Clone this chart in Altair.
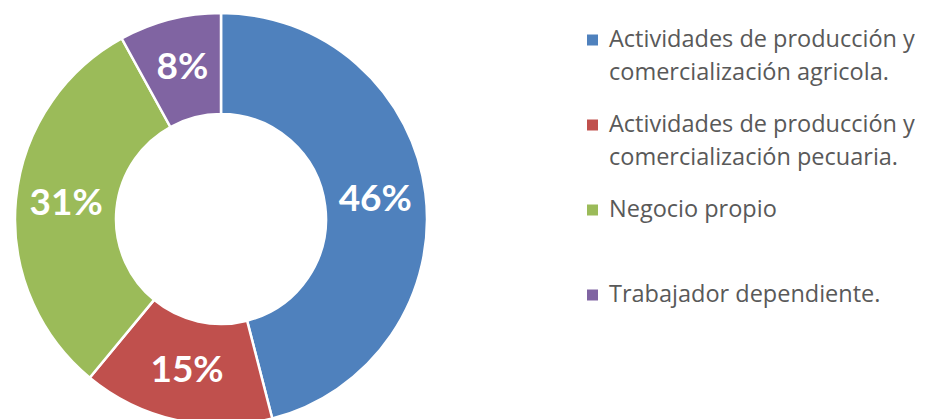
import altair as alt
import pandas as pd

categories = [
    "Actividades de producción y comercialización agricola.",
    "Actividades de producción y comercialización pecuaria.",
    "Negocio propio",
    "Trabajador dependiente.",
]
line1 = ["Actividades de producción y", "Actividades de producción y", "Negocio propio", "Trabajador dependiente."]
line2 = ["comercialización agricola.", "comercialización pecuaria.", "", ""]
values = [46, 15, 31, 8]
colors = ["#4F81BD", "#C0504D", "#9BBB59", "#8064A2"]

df = pd.DataFrame({
    "categoria": categories,
    "valor": values,
    "orden": list(range(len(categories))),
    "l1": line1,
    "l2": line2,
    "etiqueta": [f"{v}%" for v in values],
})

color = alt.Color("categoria:N", scale=alt.Scale(domain=categories, range=colors), legend=None)

base = alt.Chart(df).encode(
    theta=alt.Theta("valor:Q", stack=True),
    order=alt.Order("orden:Q"),
)
arcs = base.mark_arc(innerRadius=105, outerRadius=206, stroke="white", strokeWidth=2.5).encode(color=color)
labels = base.mark_text(
    radius=155.5, font="Lato", fontWeight="bold", fontSize=37, color="white",
    align="center", baseline="middle",
).encode(text="etiqueta:N", detail="categoria:N")
donut = alt.layer(arcs, labels).properties(width=426, height=412)

y = alt.Y("categoria:N", sort=categories, scale=alt.Scale(range=[27, 282], padding=0), axis=None)
lbase = alt.Chart(df).encode(y=y)
squares = lbase.mark_square(size=121, opacity=1, filled=True).encode(x=alt.value(158.5), color=color)
t1 = lbase.mark_text(align="left", baseline="middle", font="Open Sans", fontSize=23.5, color="#595959").encode(
    x=alt.value(175), text="l1:N")
t2 = lbase.mark_text(align="left", baseline="middle", font="Open Sans", fontSize=23.5, color="#595959", dy=33.4).encode(
    x=alt.value(175), text="l2:N")
legend = alt.layer(squares, t1, t2).properties(width=480, height=412)

chart = alt.hconcat(donut, legend, spacing=0).properties(padding=0).configure_view(stroke=None)

chart.save("out.html", embed_options={"renderer": "svg", "actions": False})
